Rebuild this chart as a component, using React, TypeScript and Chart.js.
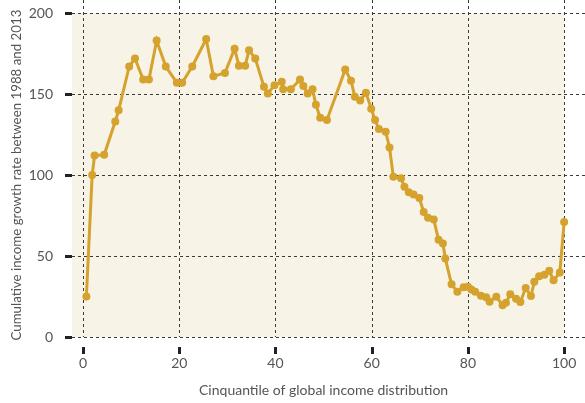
import React, { useEffect, useRef } from "react";
import { Chart, registerables } from "chart.js";

Chart.register(...registerables);

// Cinquantile position (x) and cumulative growth rate (y)
const cinquantile = [
  0.7, 1.9, 2.4, 4.4, 6.7, 7.4, 9.6, 10.8, 12.5, 13.7,
  15.3, 17.2, 19.5, 20.6, 22.7, 25.6, 27.1, 29.5, 31.5, 32.4,
  33.7, 34.5, 35.8, 37.6, 38.4, 39.8, 41.3, 41.6, 43.2, 45.1,
  45.8, 46.7, 47.7, 48.4, 49.3, 50.7, 54.5, 55.7, 56.5, 57.6,
  58.8, 59.9, 60.7, 61.5, 62.9, 63.7, 64.5, 66.1, 66.8, 67.7,
  68.7, 69.9, 70.8, 71.7, 72.9, 73.9, 74.8, 75.3, 76.6, 77.8,
  79.1, 80.0, 80.7, 81.5, 82.7, 83.8, 84.5, 85.9, 87.2, 87.9,
  88.8, 90.0, 90.9, 92.0, 93.1, 93.8, 94.8, 95.9, 96.9, 97.8,
  99.1, 100.0,
];
const growthRate = [
  25, 100, 112, 112.5, 133, 140, 167, 172, 159, 159,
  183, 167, 157, 157, 167, 184, 161, 163, 178, 167.5,
  167.5, 177, 172, 154.5, 150.4, 155.5, 157.6, 153, 153, 159,
  155, 150.4, 153, 143.4, 135.4, 134, 165.2, 158.2, 148.3, 146,
  150.8, 141, 134, 128.4, 126.7, 117, 99, 98, 92.8, 89.3,
  88, 85.8, 77.2, 73.7, 72.5, 60, 57.8, 48.4, 32.5, 28,
  30.7, 31, 29.4, 28, 25.5, 24.5, 21.8, 24.9, 19.6, 21.2,
  26.4, 23.6, 21.6, 30.2, 25.3, 34.1, 37.5, 38.5, 40.9, 35,
  39.9, 71,
];
const xTickValues = [0, 20, 40, 60, 80, 100];
const yTickValues = [0, 50, 100, 150, 200];
const xTitle = "Cinquantile of global income distribution";
const yTitle = "Cumulative income growth rate between 1988 and 2013";

const FONT = "Lato, 'Open Sans', sans-serif";
const TEXT = "#555555";
const GOLD = "#D4A22D";

const zeroPadding = (s: any) => {
  s.paddingTop = 0;
  s.paddingBottom = 0;
  s.paddingLeft = 0;
  s.paddingRight = 0;
};

export default function App() {
  const ref = useRef<HTMLCanvasElement>(null);

  useEffect(() => {
    document.body.style.margin = "0";
    const canvas = ref.current;
    if (!canvas) return;

    const decor = {
      id: "decor",
      beforeDatasetsDraw(chart: any) {
        const { ctx, chartArea: a, scales } = chart;
        const x = scales.x;
        const y = scales.y;
        const x0 = x.getPixelForValue(0);
        const x100 = x.getPixelForValue(100);
        const y200 = y.getPixelForValue(200);
        const y0 = y.getPixelForValue(0);
        ctx.save();
        ctx.fillStyle = "#F8F3E7";
        ctx.fillRect(a.left, y200, x100 - a.left, y0 - y200);

        ctx.strokeStyle = "#3a3a3a";
        ctx.lineWidth = 1;
        ctx.setLineDash([3, 3]);
        ctx.beginPath();
        for (const v of yTickValues) {
          const py = Math.round(y.getPixelForValue(v)) + 0.5;
          ctx.moveTo(a.left, py);
          ctx.lineTo(chart.width, py);
        }
        for (const v of xTickValues) {
          const px = Math.round(x.getPixelForValue(v)) + 0.5;
          ctx.moveTo(px, 0);
          ctx.lineTo(px, y0);
        }
        ctx.stroke();

        ctx.setLineDash([]);
        ctx.strokeStyle = "#222222";
        ctx.lineWidth = 3;
        ctx.beginPath();
        for (const v of yTickValues) {
          const py = Math.round(y.getPixelForValue(v)) + 0.5;
          ctx.moveTo(a.left - 7, py);
          ctx.lineTo(a.left, py);
        }
        for (const v of xTickValues) {
          const px = Math.round(x.getPixelForValue(v)) + 0.5;
          ctx.moveTo(px, y0 + 10);
          ctx.lineTo(px, y0 + 17);
        }
        ctx.stroke();

        ctx.fillStyle = TEXT;
        ctx.textAlign = "center";
        ctx.textBaseline = "middle";
        ctx.font = `14px ${FONT}`;
        ctx.fillText(xTitle, (x0 + x100) / 2, chart.height - 13);
        ctx.font = `13.3px ${FONT}`;
        ctx.translate(17, (y200 + y0) / 2);
        ctx.rotate(-Math.PI / 2);
        ctx.fillText(yTitle, 0, 0);
        ctx.restore();
      },
    };

    const chart = new Chart(canvas, {
      type: "line",
      data: {
        datasets: [
          {
            data: cinquantile.map((c, i) => ({ x: c, y: growthRate[i] })),
            borderColor: GOLD,
            backgroundColor: GOLD,
            borderWidth: 3,
            pointRadius: 4,
            pointBorderWidth: 0,
            pointBackgroundColor: GOLD,
            tension: 0,
            fill: false,
          },
        ],
      },
      options: {
        responsive: false,
        animation: false,
        layout: { padding: 0 },
        plugins: { legend: { display: false }, tooltip: { enabled: false } },
        scales: {
          x: {
            type: "linear",
            min: -2.29,
            max: 103.5,
            grid: { display: false },
            border: { display: false },
            afterBuildTicks: (s: any) => {
              s.ticks = xTickValues.map((v) => ({ value: v }));
            },
            afterFit: (s: any) => {
              s.height = 66;
              zeroPadding(s);
            },
            ticks: {
              color: TEXT,
              font: { family: FONT, size: 14 },
              padding: 10,
              maxRotation: 0,
            },
          },
          y: {
            type: "linear",
            min: 0,
            max: 205.6,
            grid: { display: false },
            border: { display: false },
            afterBuildTicks: (s: any) => {
              s.ticks = yTickValues.map((v) => ({ value: v }));
            },
            afterFit: (s: any) => {
              s.width = 72;
              zeroPadding(s);
            },
            ticks: {
              color: TEXT,
              font: { family: FONT, size: 14 },
              padding: 11,
            },
          },
        },
      },
      plugins: [decor],
    });

    return () => chart.destroy();
  }, []);

  return (
    <div style={{ width: 585, height: 403 }}>
      <canvas ref={ref} width={585} height={403} style={{ display: "block" }} />
    </div>
  );
}
